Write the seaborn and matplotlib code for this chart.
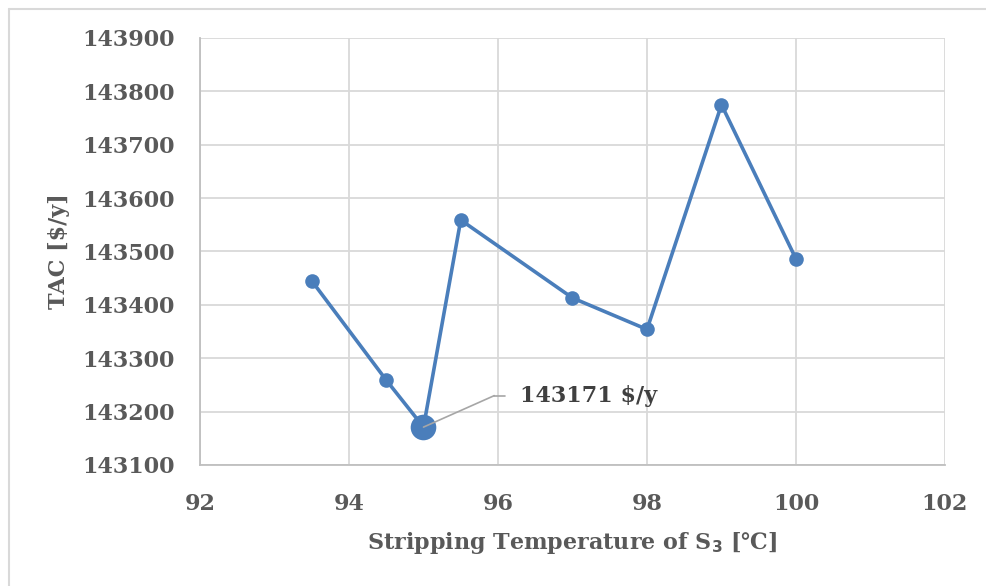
import matplotlib
matplotlib.use("Agg")
import matplotlib.pyplot as plt
import seaborn as sns
import pandas as pd
from matplotlib.lines import Line2D

# Stripping temperature of S3 (°C) and total annual cost (TAC, $/y)
temperature = [93.5, 94.5, 95.0, 95.5, 97.0, 98.0, 99.0, 100.0]
tac = [143445, 143259, 143171, 143559, 143413, 143354, 143775, 143486]

# Optimum point highlighted with a larger marker and a callout
opt_temperature = 95.0
opt_tac = 143171
opt_label = f"{opt_tac} $/y"

x_ticks = [92, 94, 96, 98, 100, 102]
y_ticks = [143100, 143200, 143300, 143400, 143500, 143600, 143700, 143800, 143900]

sns.set_theme(style="white")
plt.rcParams["font.family"] = ["DejaVu Serif", "DejaVu Sans"]
plt.rcParams["font.weight"] = "bold"

text_color = "#595959"
line_color = "#4A7EBB"
grid_color = "#D9D9D9"

df = pd.DataFrame({"T": temperature, "TAC": tac})

fig = plt.figure(figsize=(9.87, 5.86), dpi=100)
ax = fig.add_axes([200 / 987, 1 - 465 / 586, 745 / 987, 427 / 586])

sns.lineplot(data=df, x="T", y="TAC", ax=ax, color=line_color, linewidth=2.6,
             marker="o", markersize=10.5, markeredgewidth=0, sort=False)
sns.scatterplot(x=[opt_temperature], y=[opt_tac], ax=ax, color=line_color,
                s=340, linewidth=0, zorder=5)

ax.set_xlim(x_ticks[0], x_ticks[-1])
ax.set_ylim(y_ticks[0], y_ticks[-1])
ax.set_xticks(x_ticks)
ax.set_yticks(y_ticks)
ax.set_xticklabels([str(v) for v in x_ticks])
ax.set_yticklabels([str(v) for v in y_ticks])
ax.tick_params(axis="both", length=0, labelsize=16, labelcolor=text_color)
ax.tick_params(axis="x", pad=20)
ax.tick_params(axis="y", pad=18)
for lab in ax.get_xticklabels() + ax.get_yticklabels():
    lab.set_fontweight("bold")

ax.grid(True, color=grid_color, linewidth=1.3)
ax.set_axisbelow(True)
for side in ["top", "right"]:
    ax.spines[side].set_visible(False)
for side in ["left", "bottom"]:
    ax.spines[side].set_color("#BFBFBF")
    ax.spines[side].set_linewidth(1.3)

ax.set_xlabel("Stripping Temperature of S$_\\mathbf{3}$ [\u2103]", fontsize=16,
              color=text_color, fontweight="bold", labelpad=11)
ax.set_ylabel("TAC [$/y]", fontsize=16, color=text_color, fontweight="bold",
              labelpad=9)

# Callout for the minimum TAC
ax.annotate("", xy=(opt_temperature, opt_tac), xytext=(95.95, 143230),
            arrowprops=dict(arrowstyle="-", color="#A6A6A6", lw=1.2,
                            shrinkA=0, shrinkB=0), zorder=6)
ax.plot([95.95, 96.1], [143230, 143230], color="#A6A6A6", lw=1.2, zorder=6)
ax.text(96.3, 143230, opt_label, fontsize=16, color="#404040",
        fontweight="bold", va="center", ha="left")

# Outer chart frame (top and left edges)
frame_kw = dict(transform=fig.transFigure, color="#D9D9D9", linewidth=1.5)
fig.lines.append(Line2D([9 / 987, 1.0], [1 - 9 / 586, 1 - 9 / 586], **frame_kw))
fig.lines.append(Line2D([9 / 987, 9 / 987], [0.0, 1 - 9 / 586], **frame_kw))

fig.savefig("out.png", dpi=100)
